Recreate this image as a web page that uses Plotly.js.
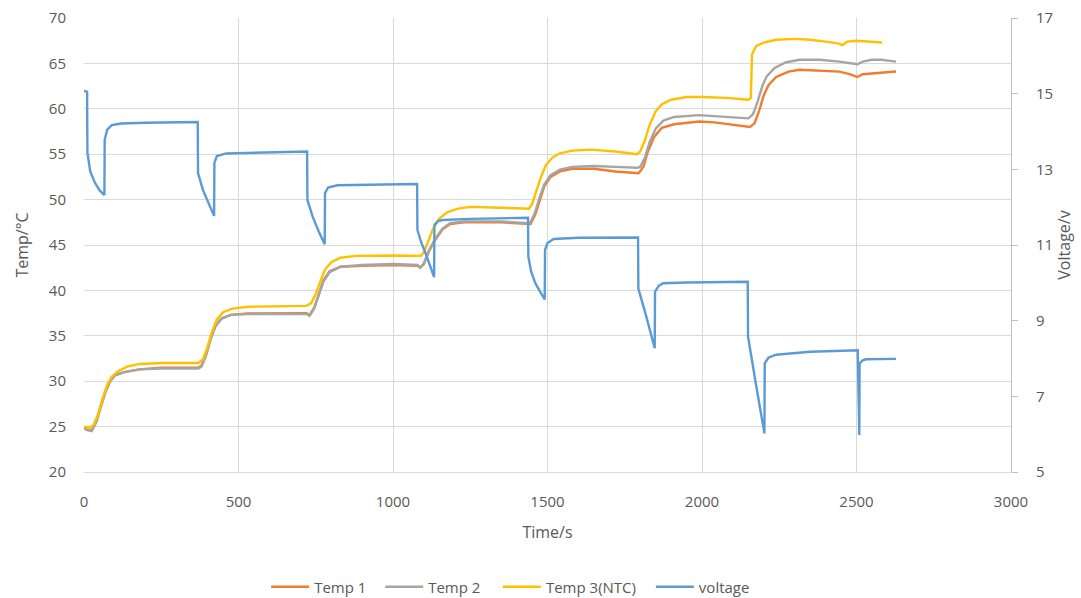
<!DOCTYPE html>
<html>
<head>
<meta charset="utf-8">
<script src="https://cdn.plot.ly/plotly-3.0.1.min.js"></script>
<style>html,body{margin:0;padding:0;background:#fff;}#chart{width:1081px;height:598px;}</style>
</head>
<body>
<div id="chart"></div>
<script>
// ---- Data ----
const seriesNames = ["Temp 1", "Temp 2", "Temp 3(NTC)", "voltage"];

const time1 = [0,10,25,40,55,70,85,100,130,180,250,370,380,395,410,425,445,475,530,720,730,745,760,775,795,830,900,1000,1080,1088,1100,1115,1135,1160,1185,1230,1350,1437,1445,1460,1475,1490,1510,1540,1580,1650,1720,1776,1795,1810,1825,1845,1870,1910,1990,2040,2100,2155,2170,2185,2200,2215,2240,2280,2316,2380,2445,2480,2503,2520,2550,2580,2628];
const temp1 = [24.9,24.7,24.6,25.6,27.4,29.0,30.1,30.7,31.0,31.3,31.5,31.5,31.7,33.0,34.8,36.1,36.9,37.3,37.45,37.5,37.3,38.1,39.6,41.1,42.1,42.6,42.7,42.8,42.7,42.5,42.9,44.2,45.5,46.7,47.3,47.5,47.5,47.3,47.3,48.3,50.0,51.5,52.5,53.1,53.4,53.4,53.1,52.9,52.9,53.6,55.3,56.9,57.9,58.3,58.6,58.5,58.2,58.0,58.4,59.8,61.5,62.6,63.5,64.1,64.3,64.2,64.1,63.8,63.5,63.8,63.9,64.0,64.1];

const time2 = [0,10,25,40,55,70,85,100,130,180,250,370,380,395,410,425,445,475,530,720,730,745,760,775,795,830,900,1000,1080,1088,1100,1115,1135,1160,1185,1230,1350,1437,1445,1460,1475,1490,1510,1540,1580,1650,1720,1790,1800,1815,1830,1850,1875,1910,1990,2080,2150,2165,2180,2195,2210,2235,2270,2316,2380,2445,2480,2503,2520,2550,2580,2628];
const temp2 = [24.8,24.6,24.5,25.5,27.2,28.8,30.0,30.6,31.0,31.3,31.4,31.4,31.6,32.8,34.6,36.0,36.9,37.3,37.4,37.4,37.2,38.0,39.5,41.0,42.0,42.6,42.8,42.9,42.8,42.5,43.0,44.3,45.6,46.8,47.4,47.6,47.6,47.4,47.5,48.6,50.3,51.7,52.7,53.3,53.6,53.7,53.6,53.5,53.6,54.6,56.3,57.8,58.7,59.1,59.3,59.1,58.95,59.4,60.8,62.5,63.6,64.5,65.1,65.4,65.4,65.2,65.0,64.9,65.2,65.4,65.4,65.2];

const time3 = [0,15,30,45,60,75,90,110,140,180,250,370,385,400,415,430,450,480,530,720,735,750,765,780,800,830,880,1000,1090,1100,1115,1130,1150,1175,1210,1250,1350,1440,1450,1465,1480,1495,1515,1540,1580,1640,1720,1790,1800,1815,1830,1850,1870,1900,1950,2000,2080,2150,2158,2162,2175,2200,2240,2300,2350,2400,2440,2455,2470,2500,2550,2583];
const temp3 = [25.0,24.9,25.1,26.3,28.0,29.6,30.5,31.1,31.6,31.9,32.0,32.0,32.4,33.8,35.5,36.8,37.6,38.0,38.2,38.3,38.6,39.6,41.0,42.3,43.1,43.6,43.8,43.85,43.8,44.2,45.5,46.8,47.9,48.6,49.0,49.2,49.1,49.0,49.5,51.0,52.6,53.8,54.6,55.1,55.4,55.5,55.3,55.0,55.3,56.5,58.2,59.7,60.5,61.0,61.3,61.3,61.2,61.0,61.2,66.0,66.9,67.3,67.6,67.7,67.6,67.4,67.2,67.0,67.4,67.5,67.4,67.3];

const timeV = [0,10,11,20,35,50,66,67,75,90,120,200,368,369,385,405,421,422,430,460,600,722,723,740,760,779,780,790,820,950,1078,1079,1090,1105,1120,1133,1134,1145,1161,1250,1437,1438,1447,1460,1475,1491,1492,1500,1520,1600,1793,1794,1820,1847,1848,1860,1874,1950,2148,2149,2175,2202,2203,2215,2240,2350,2504,2509,2510,2520,2531,2628];
const voltage = [15.07,15.05,13.45,12.95,12.65,12.45,12.32,13.78,14.05,14.17,14.21,14.23,14.25,12.9,12.45,12.05,11.77,13.17,13.35,13.42,13.45,13.47,12.19,11.75,11.35,11.02,12.37,12.52,12.58,12.6,12.61,11.4,11.1,10.79,10.45,10.15,11.53,11.63,11.66,11.69,11.72,10.69,10.3,10.0,9.78,9.56,10.87,11.05,11.16,11.19,11.2,9.85,9.1,8.27,9.77,9.92,9.99,10.01,10.03,8.58,7.3,6.02,7.87,8.02,8.1,8.18,8.22,5.98,7.87,7.95,7.98,7.99];

const xTicks = [0,500,1000,1500,2000,2500,3000];
const yTicks = [20,25,30,35,40,45,50,55,60,65,70];
const y2Ticks = [5,7,9,11,13,15,17];

// ---- Styles ----
const colors = ["#ED7D31", "#A5A5A5", "#FFC000", "#5B9BD5"];
const FONT = "'Open Sans', 'Liberation Sans', sans-serif";
const TXT = "#595959";
const legendIds = ["legend", "legend2", "legend3", "legend4"];
const legendX = [0.1965, 0.3195, 0.4465, 0.6115];

const traces = [
  {x: time1, y: temp1, name: seriesNames[0], type: "scatter", mode: "lines", legend: legendIds[0], line: {color: colors[0], width: 2.4}},
  {x: time2, y: temp2, name: seriesNames[1], type: "scatter", mode: "lines", legend: legendIds[1], line: {color: colors[1], width: 2.4}},
  {x: time3, y: temp3, name: seriesNames[2], type: "scatter", mode: "lines", legend: legendIds[2], line: {color: colors[2], width: 2.4}},
  {x: timeV, y: voltage, name: seriesNames[3], type: "scatter", mode: "lines", yaxis: "y2", legend: legendIds[3], line: {color: colors[3], width: 2.4}}
];

const layout = {
  width: 1081, height: 598,
  margin: {l: 84, r: 70, t: 18, b: 126, autoexpand: false},
  paper_bgcolor: "#ffffff", plot_bgcolor: "#ffffff",
  font: {family: FONT, size: 15, color: TXT},
  showlegend: true,
  xaxis: {range: [0, 3000], tickmode: "array", tickvals: xTicks, ticktext: xTicks.map(String),
          showgrid: true, gridcolor: "#D9D9D9", gridwidth: 1, zeroline: false, automargin: false,
          showline: true, linecolor: "#D9D9D9", linewidth: 1, ticks: "", ticklabelstandoff: 16,
          tickfont: {family: FONT, size: 15, color: TXT},
          title: {text: "Time/s", font: {family: FONT, size: 16, color: TXT}, standoff: 16}},
  yaxis: {range: [20, 70], tickmode: "array", tickvals: yTicks, ticktext: yTicks.map(String),
          showgrid: true, gridcolor: "#D9D9D9", gridwidth: 1, zeroline: false, automargin: false,
          showline: false, ticks: "", ticklabelstandoff: 17,
          tickfont: {family: FONT, size: 15, color: TXT},
          title: {text: "Temp/°C", font: {family: FONT, size: 16, color: TXT}, standoff: 16}},
  yaxis2: {range: [5, 17], overlaying: "y", side: "right", tickmode: "array", tickvals: y2Ticks, ticktext: y2Ticks.map(String),
           showgrid: false, zeroline: false, showline: true, linecolor: "#BFBFBF", linewidth: 1, automargin: false,
           ticks: "outside", ticklen: 6, tickcolor: "#BFBFBF", ticklabelstandoff: 15,
           tickfont: {family: FONT, size: 15, color: TXT},
           title: {text: "Voltage/v", font: {family: FONT, size: 16, color: TXT}, standoff: 6}}
};
legendIds.forEach(function (id, i) {
  layout[id] = {orientation: "h", x: legendX[i], xanchor: "left", y: -0.2533, yanchor: "middle",
                font: {family: FONT, size: 15, color: TXT}, itemwidth: 38, bgcolor: "rgba(0,0,0,0)"};
});

Plotly.newPlot("chart", traces, layout, {displayModeBar: false, staticPlot: true});
</script>
</body>
</html>
